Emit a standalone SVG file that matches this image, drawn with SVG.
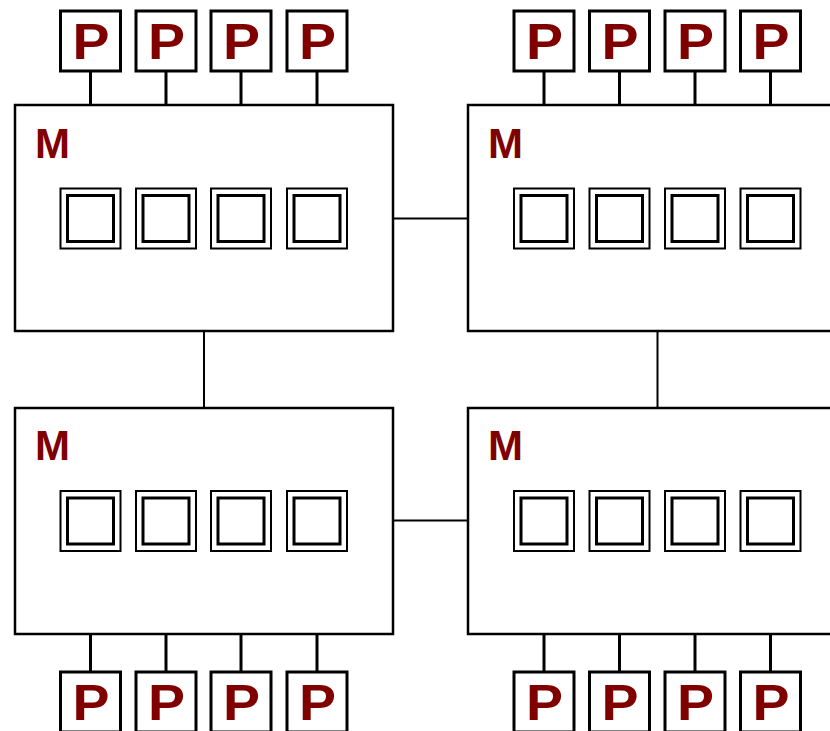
<svg xmlns="http://www.w3.org/2000/svg" width="830" height="731" viewBox="0 0 830 731">
  <defs>
    <style>
      .mem { fill: #fff; stroke: #000; stroke-width: 2.5; }
      .proc { fill: #fff; stroke: #000; stroke-width: 3; }
      .cell-out { fill: #fff; stroke: #000; stroke-width: 2; }
      .cell-in { fill: none; stroke: #000; stroke-width: 3; }
      .link { stroke: #000; stroke-width: 2; fill: none; }
      .plink { stroke: #000; stroke-width: 3; fill: none; }
      .lbl { fill: #800000; font-family: "Liberation Sans", Arial, sans-serif; font-weight: bold; }
    </style>
    <!-- a memory cell: double-framed square -->
    <g id="cell">
      <rect class="cell-out" x="0" y="0" width="60" height="60"/>
      <rect class="cell-in" x="7" y="7" width="46" height="46"/>
    </g>
    <!-- a processor box with its P label -->
    <g id="proc">
      <rect class="proc" x="0" y="0" width="60" height="60"/>
      <text class="lbl" x="12" y="48" font-size="50" textLength="37" lengthAdjust="spacingAndGlyphs">P</text>
    </g>
  </defs>

  <rect width="830" height="731" fill="#fff"/>

  <!-- connectors -->
  <g id="connectors">
    <!-- memory to memory -->
    <line class="link" x1="393" y1="218.5" x2="468" y2="218.5"/>
    <line class="link" x1="393" y1="520.5" x2="468" y2="520.5"/>
    <line class="link" x1="204" y1="331" x2="204" y2="408"/>
    <line class="link" x1="657.5" y1="331" x2="657.5" y2="408"/>
    <!-- processors to memory, top -->
    <line class="plink" x1="90.5" y1="71" x2="90.5" y2="109"/>
    <line class="plink" x1="166" y1="71" x2="166" y2="109"/>
    <line class="plink" x1="241" y1="71" x2="241" y2="109"/>
    <line class="plink" x1="317" y1="71" x2="317" y2="109"/>
    <line class="plink" x1="544" y1="71" x2="544" y2="109"/>
    <line class="plink" x1="619.5" y1="71" x2="619.5" y2="109"/>
    <line class="plink" x1="695" y1="71" x2="695" y2="109"/>
    <line class="plink" x1="770.5" y1="71" x2="770.5" y2="109"/>
    <!-- processors to memory, bottom -->
    <line class="plink" x1="90.5" y1="634" x2="90.5" y2="672"/>
    <line class="plink" x1="166" y1="634" x2="166" y2="672"/>
    <line class="plink" x1="241" y1="634" x2="241" y2="672"/>
    <line class="plink" x1="317" y1="634" x2="317" y2="672"/>
    <line class="plink" x1="544" y1="634" x2="544" y2="672"/>
    <line class="plink" x1="619.5" y1="634" x2="619.5" y2="672"/>
    <line class="plink" x1="695" y1="634" x2="695" y2="672"/>
    <line class="plink" x1="770.5" y1="634" x2="770.5" y2="672"/>
  </g>

  <!-- memory nodes -->
  <g id="mem-tl">
    <rect class="mem" x="15" y="105" width="378" height="226"/>
    <text class="lbl" x="35" y="158" font-size="42">M</text>
    <use href="#cell" x="60.5" y="188.5"/>
    <use href="#cell" x="136" y="188.5"/>
    <use href="#cell" x="211" y="188.5"/>
    <use href="#cell" x="287" y="188.5"/>
  </g>
  <g id="mem-tr">
    <rect class="mem" x="468" y="105" width="380" height="226"/>
    <text class="lbl" x="488" y="158" font-size="42">M</text>
    <use href="#cell" x="514" y="188.5"/>
    <use href="#cell" x="589.5" y="188.5"/>
    <use href="#cell" x="665" y="188.5"/>
    <use href="#cell" x="740.5" y="188.5"/>
  </g>
  <g id="mem-bl">
    <rect class="mem" x="15" y="408" width="378" height="226"/>
    <text class="lbl" x="35" y="460" font-size="42">M</text>
    <use href="#cell" x="60.5" y="491"/>
    <use href="#cell" x="136" y="491"/>
    <use href="#cell" x="211" y="491"/>
    <use href="#cell" x="287" y="491"/>
  </g>
  <g id="mem-br">
    <rect class="mem" x="468" y="408" width="380" height="226"/>
    <text class="lbl" x="488" y="460" font-size="42">M</text>
    <use href="#cell" x="514" y="491"/>
    <use href="#cell" x="589.5" y="491"/>
    <use href="#cell" x="665" y="491"/>
    <use href="#cell" x="740.5" y="491"/>
  </g>

  <!-- processors -->
  <g id="p-top-1"><use href="#proc" x="60.5" y="11"/></g>
  <g id="p-top-2"><use href="#proc" x="136" y="11"/></g>
  <g id="p-top-3"><use href="#proc" x="211" y="11"/></g>
  <g id="p-top-4"><use href="#proc" x="287" y="11"/></g>
  <g id="p-top-5"><use href="#proc" x="514" y="11"/></g>
  <g id="p-top-6"><use href="#proc" x="589.5" y="11"/></g>
  <g id="p-top-7"><use href="#proc" x="665" y="11"/></g>
  <g id="p-top-8"><use href="#proc" x="740.5" y="11"/></g>
  <g id="p-bot-1"><use href="#proc" x="60.5" y="672"/></g>
  <g id="p-bot-2"><use href="#proc" x="136" y="672"/></g>
  <g id="p-bot-3"><use href="#proc" x="211" y="672"/></g>
  <g id="p-bot-4"><use href="#proc" x="287" y="672"/></g>
  <g id="p-bot-5"><use href="#proc" x="514" y="672"/></g>
  <g id="p-bot-6"><use href="#proc" x="589.5" y="672"/></g>
  <g id="p-bot-7"><use href="#proc" x="665" y="672"/></g>
  <g id="p-bot-8"><use href="#proc" x="740.5" y="672"/></g>
</svg>
